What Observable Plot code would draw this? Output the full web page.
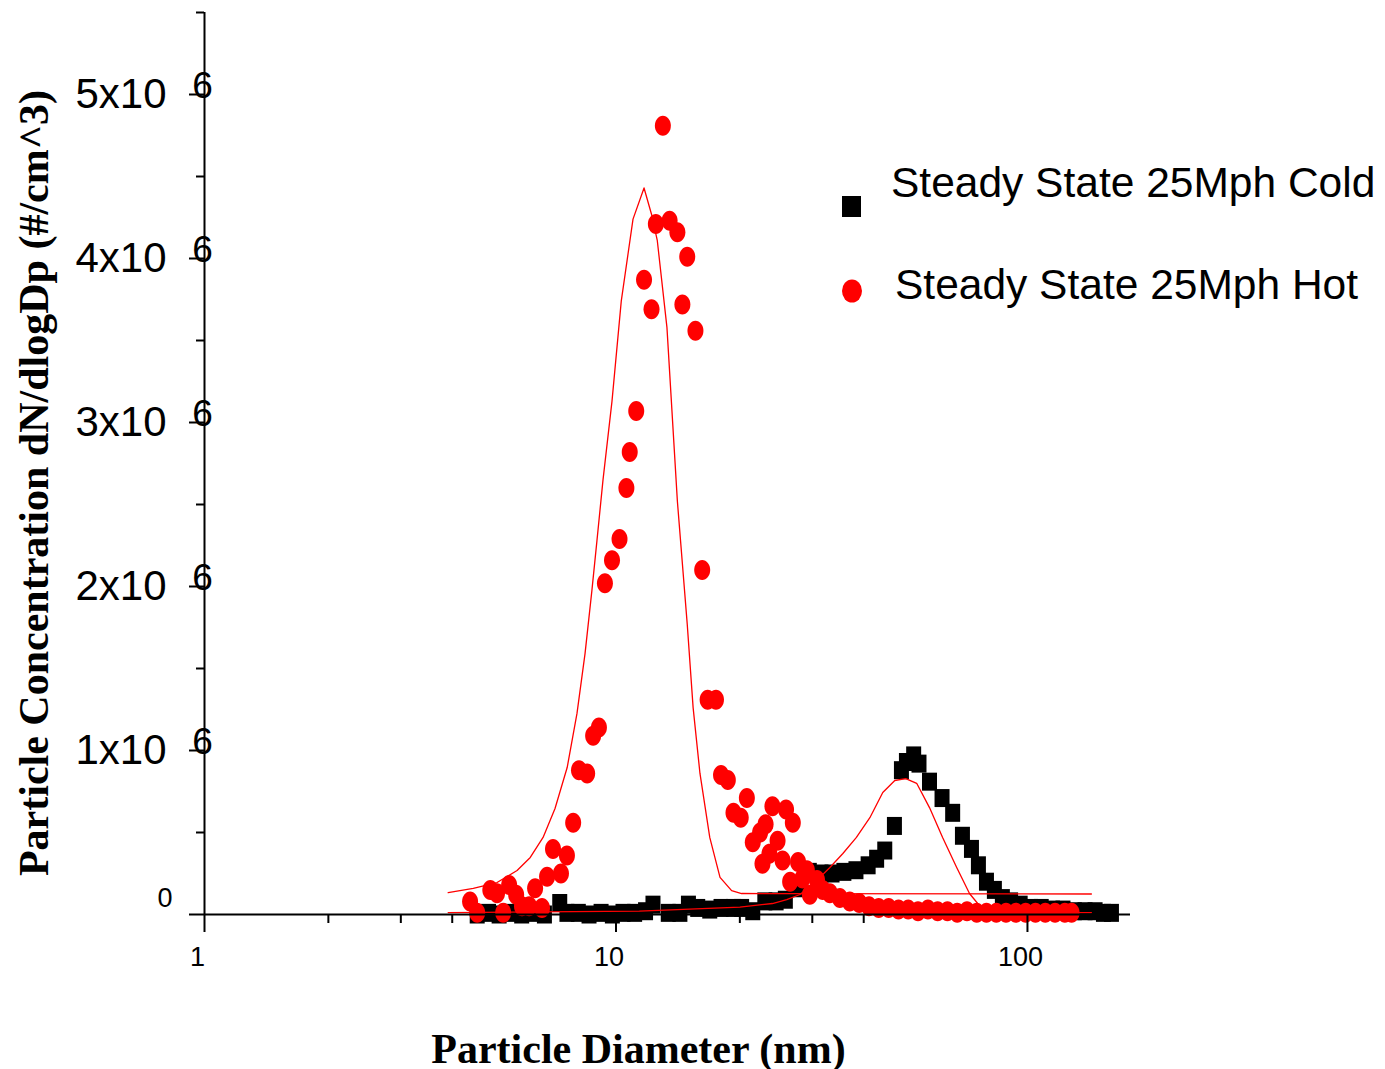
<!DOCTYPE html>
<html><head><meta charset="utf-8">
<script src="https://cdn.jsdelivr.net/npm/d3@7"></script>
<script src="https://cdn.jsdelivr.net/npm/@observablehq/plot@0.6"></script>
<style>
html,body{margin:0;padding:0;background:#fff;}
#wrap{position:relative;width:1385px;height:1069px;}
#wrap svg{display:block;}
#legend{position:absolute;left:0;top:0;pointer-events:none;}
</style></head><body><div id="wrap"></div>
<script>
// Steady State 25Mph Cold (black squares)
const coldDiameter = [4.6,4.9,5.2,5.5,5.9,6.3,6.7,7.3,7.6,8.1,8.6,9.2,9.8,10.4,11.1,11.8,12.3,13.4,14.3,15.0,15.8,16.9,18.0,19.3,20.2,21.5,23.0,24.5,25.8,27.8,29.5,31.5,33.5,35.8,38.3,41.0,43.0,45.0,47.5,49.4,50.8,52.9,54.5,57.8,62.0,65.8,69.5,73.1,76.0,79.5,83.1,86.9,91.0,96.0,102,108,115,122,130,138,146,153,160];
const coldConc = [0.00,0.01,0.00,0.01,0.00,0.01,0.00,0.07,0.01,0.01,0.00,0.01,0.00,0.01,0.01,0.02,0.06,0.01,0.01,0.06,0.04,0.03,0.04,0.04,0.04,0.02,0.08,0.08,0.09,0.16,0.26,0.25,0.25,0.26,0.27,0.30,0.34,0.39,0.54,0.88,0.93,0.97,0.92,0.81,0.71,0.62,0.48,0.40,0.30,0.20,0.15,0.10,0.08,0.06,0.04,0.04,0.03,0.03,0.02,0.02,0.02,0.01,0.01];

// Steady State 25Mph Hot (red circles)
const hotDiameter = [4.42,4.60,4.95,5.14,5.32,5.50,5.72,5.91,6.15,6.36,6.61,6.80,7.03,7.35,7.60,7.87,8.13,8.51,8.80,9.09,9.40,9.78,10.2,10.6,10.8,11.2,11.7,12.2,12.5,13.0,13.5,14.1,14.5,14.9,15.6,16.2,16.7,17.5,18.0,18.7,19.3,20.1,20.8,21.5,22.4,22.7,23.1,23.6,24.0,24.7,25.4,25.9,26.5,26.9,27.7,28.4,29.1,29.6,30.8,31.8,33.1,35.0,37.0,39.0,41.2,43.5,46.0,48.6,51.3,54.2,57.3,60.5,63.9,67.5,71.3,75.3,79.5,84.0,88.7,93.7,99.0,104.6,110.5,116.7,123.3,128];
const hotConc = [0.08,0.01,0.15,0.13,0.01,0.18,0.12,0.05,0.05,0.16,0.04,0.23,0.40,0.25,0.36,0.56,0.88,0.86,1.09,1.14,2.02,2.16,2.29,2.60,2.82,3.07,3.87,3.69,4.21,4.81,4.23,4.16,3.72,4.01,3.56,2.10,1.31,1.31,0.85,0.82,0.62,0.59,0.71,0.44,0.50,0.31,0.55,0.37,0.66,0.45,0.33,0.64,0.20,0.56,0.32,0.22,0.27,0.12,0.21,0.15,0.13,0.10,0.08,0.07,0.05,0.04,0.04,0.03,0.03,0.02,0.03,0.02,0.02,0.01,0.02,0.01,0.01,0.01,0.01,0.01,0.01,0.01,0.01,0.01,0.01,0.01];

// fitted curves (thin red lines)
const fitHotDiameter = [3.91,4.50,5.14,5.75,6.19,6.65,7.11,7.61,8.04,8.41,8.74,8.99,9.30,9.78,10.3,11.0,11.7,12.2,12.6,13.3,14.1,14.9,15.4,16.0,16.9,17.9,19.1,20.2,143];
const fitHotConc = [0.134,0.159,0.195,0.268,0.348,0.470,0.646,0.896,1.226,1.591,1.976,2.28,2.65,3.13,3.74,4.24,4.43,4.27,4.11,3.58,2.52,1.77,1.26,0.86,0.47,0.226,0.146,0.128,0.125];
const fitColdDiameter = [3.91,11.4,20.0,24.0,26.0,28.0,30.4,33.1,35.6,38.4,41.4,44.5,47.6,50.6,53.8,57.8,62.2,67.3,72.3,75.7,77.8,143];
const fitColdConc = [0.012,0.020,0.045,0.067,0.091,0.122,0.195,0.287,0.372,0.47,0.59,0.744,0.817,0.829,0.80,0.652,0.47,0.287,0.128,0.067,0.012,0.012];

// axis ticks
const xMajorTicks = [1, 10, 100];
const xMinorTicks = [2, 3, 4, 20, 30, 40];
const yMajorTicks = [0, 1, 2, 3, 4, 5];
const yMinorTicks = [0.5, 1.5, 2.5, 3.5, 4.5, 5.5];

const seriesNames = ["Steady State 25Mph Cold", "Steady State 25Mph Hot"];
const xTitle = "Particle Diameter (nm)";
const yTitle = "Particle Concentration dN/dlogDp (#/cm^3)";

const cold = coldDiameter.map((d, i) => ({d, v: coldConc[i]}));
const hot = hotDiameter.map((d, i) => ({d, v: hotConc[i]}));
const fitHot = fitHotDiameter.map((d, i) => ({d, v: fitHotConc[i]}));
const fitCold = fitColdDiameter.map((d, i) => ({d, v: fitColdConc[i]}));

const squareSym = {draw(ctx, size) {
  const r = Math.sqrt(size / Math.PI), w = r, h = r * 1.2;
  ctx.moveTo(-w, -h); ctx.lineTo(w, -h); ctx.lineTo(w, h); ctx.lineTo(-w, h); ctx.closePath();
}};
const ellipseSym = {draw(ctx, size) {
  const rx = Math.sqrt(size / Math.PI), ry = rx * 1.25, k = 0.5523;
  ctx.moveTo(rx, 0);
  ctx.bezierCurveTo(rx, k * ry, k * rx, ry, 0, ry);
  ctx.bezierCurveTo(-k * rx, ry, -rx, k * ry, -rx, 0);
  ctx.bezierCurveTo(-rx, -k * ry, -k * rx, -ry, 0, -ry);
  ctx.bezierCurveTo(k * rx, -ry, rx, -k * ry, rx, 0);
  ctx.closePath();
}};

const sans = "Liberation Sans, Arial, sans-serif";
const serif = "Liberation Serif, Times New Roman, serif";

const chart = Plot.plot({
  width: 1385, height: 1069,
  marginLeft: 204, marginRight: 255, marginTop: 12, marginBottom: 155,
  x: {type: "log", domain: [1, 178]},
  y: {domain: [0, 5.5]},
  style: {fontFamily: sans, color: "#000", background: "#fff", overflow: "visible"},
  marks: [
    Plot.dot(cold, {x: "d", y: "v", symbol: squareSym, r: 7.5, fill: "#000"}),
    Plot.dot(hot, {x: "d", y: "v", symbol: ellipseSym, r: 8, fill: "#ff0000"}),
    Plot.line(fitHot, {x: "d", y: "v", stroke: "#ff0000", strokeWidth: 1.3}),
    Plot.line(fitCold, {x: "d", y: "v", stroke: "#ff0000", strokeWidth: 1.3}),
    Plot.ruleY([0], {strokeWidth: 2}),
    Plot.ruleX([1], {strokeWidth: 2}),
    Plot.axisX(xMajorTicks, {tickSize: 18, tickFormat: () => "", strokeWidth: 2, label: null}),
    Plot.axisX(xMinorTicks, {tickSize: 9, tickFormat: () => "", strokeWidth: 2, label: null}),
    Plot.axisX(xMajorTicks, {tickSize: 0, tickPadding: 32, dx: -7, fontSize: 27, tickFormat: d => String(d), label: null}),
    Plot.axisY(yMajorTicks, {tickSize: 15, tickFormat: () => "", strokeWidth: 2, label: null}),
    Plot.axisY(yMinorTicks, {tickSize: 8, tickFormat: () => "", strokeWidth: 2, label: null}),
    Plot.axisY(yMajorTicks.filter(v => v > 0), {tickSize: 0, tickPadding: 38, fontSize: 42, tickFormat: v => `${v}x10`, label: null}),
    Plot.axisY(yMajorTicks.filter(v => v > 0), {tickSize: 0, tickPadding: 2, textAnchor: "middle", dy: -8, fontSize: 37, tickFormat: () => "6", label: null}),
    Plot.axisY([0], {tickSize: 0, tickPadding: 32, dy: -16, fontSize: 27, tickFormat: v => String(v), label: null}),
    Plot.text([xTitle], {text: d => d, frameAnchor: "bottom", textAnchor: "middle", lineAnchor: "middle", dx: -29, dy: 134.6, fontSize: 42, fontWeight: "bold", fontFamily: serif}),
    Plot.text([yTitle], {text: d => d, frameAnchor: "left", textAnchor: "middle", lineAnchor: "middle", rotate: -90, dx: -170.4, dy: 19.5, fontSize: 42, fontWeight: "bold", fontFamily: serif})
  ]
});
const wrap = document.getElementById("wrap");
wrap.appendChild(chart);

// legend overlay
const NS = "http://www.w3.org/2000/svg";
const leg = document.createElementNS(NS, "svg");
leg.setAttribute("id", "legend");
leg.setAttribute("width", 1385); leg.setAttribute("height", 1069);
leg.innerHTML = `
  <rect x="842" y="196" width="19" height="21" fill="#000"/>
  <ellipse cx="852" cy="291" rx="10" ry="11.5" fill="#ff0000"/>
  <text x="891" y="197" font-family="${sans}" font-size="42.5" fill="#000">${seriesNames[0]}</text>
  <text x="895" y="299" font-family="${sans}" font-size="42.5" fill="#000">${seriesNames[1]}</text>`;
wrap.appendChild(leg);
</script>
</body></html>
